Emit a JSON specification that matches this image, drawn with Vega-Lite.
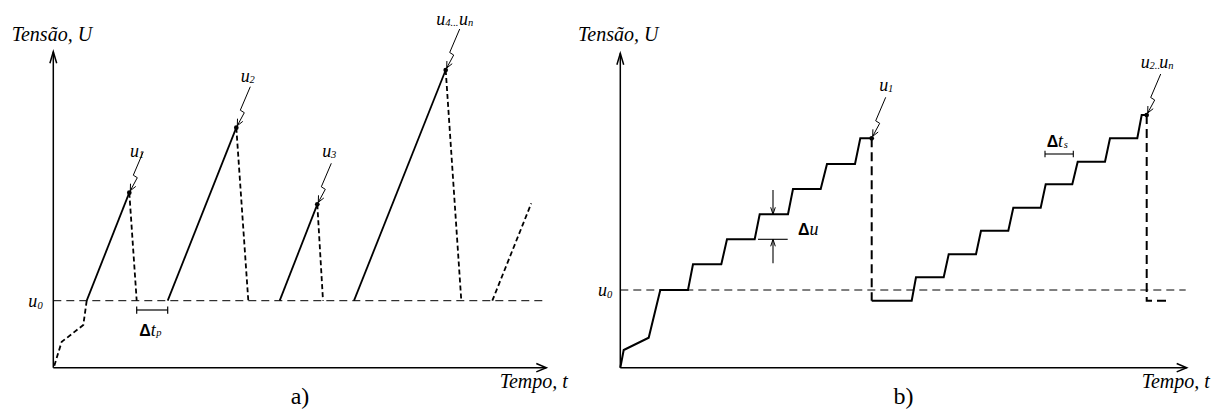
{
  "$schema": "https://vega.github.io/schema/vega-lite/v6.json",
  "background": "white",
  "padding": 0,
  "spacing": 0,
  "bounds": "flush",
  "config": {
    "view": {"stroke": null},
    "mark": {"color": "black"},
    "text": {"font": "Times New Roman", "color": "black"}
  },
  "datasets": {
    "segA": [
      {"role": "axis", "t": 0, "U": 0, "t2": 0, "U2": 31.6},
      {"role": "axis", "t": 0, "U": 0, "t2": 49.3, "U2": 0},
      {"role": "u0", "t": 0, "U": 6.7, "t2": 49.15, "U2": 6.7},
      {"role": "rise", "t": 3.34, "U": 6.7, "t2": 7.6, "U2": 17.5},
      {"role": "rise", "t": 11.44, "U": 6.7, "t2": 18.3, "U2": 24.0},
      {"role": "rise", "t": 22.64, "U": 6.7, "t2": 26.4, "U2": 16.34},
      {"role": "rise", "t": 30.07, "U": 6.7, "t2": 39.24, "U2": 29.77},
      {"role": "fall", "t": 7.6, "U": 17.5, "t2": 8.34, "U2": 6.7},
      {"role": "fall", "t": 18.3, "U": 24.0, "t2": 19.5, "U2": 6.7},
      {"role": "fall", "t": 26.4, "U": 16.34, "t2": 26.97, "U2": 6.7},
      {"role": "fall", "t": 39.24, "U": 29.77, "t2": 40.8, "U2": 6.7},
      {"role": "fall", "t": 43.9, "U": 6.7, "t2": 47.8, "U2": 16.44},
      {"role": "span", "t": 8.34, "U": 5.77, "t2": 11.44, "U2": 5.77},
      {"role": "span", "t": 8.34, "U": 6.12, "t2": 8.34, "U2": 5.4},
      {"role": "span", "t": 11.44, "U": 6.12, "t2": 11.44, "U2": 5.4}
    ],
    "leadA": [
      {"i": 0, "t": 0.1, "U": 0.2},
      {"i": 1, "t": 0.84, "U": 2.6},
      {"i": 2, "t": 1.34, "U": 2.97},
      {"i": 3, "t": 3.0, "U": 4.27},
      {"i": 4, "t": 3.34, "U": 6.7}
    ],
    "peaksA": [
      {"t": 7.6, "U": 17.5},
      {"t": 18.3, "U": 24.0},
      {"t": 26.4, "U": 16.34},
      {"t": 39.24, "U": 29.77}
    ],
    "tipsA": [
      {"dir": "up", "t": 0, "U": 31.6},
      {"dir": "right", "t": 49.3, "U": 0}
    ],
    "textA": [
      {"role": "title", "t": -4.16, "U": 32.67, "text": "Tensão, U"},
      {"role": "title", "t": 44.64, "U": -2.0, "text": "Tempo, t"},
      {"role": "tag", "t": 24.67, "U": -3.63, "text": "a)"},
      {"role": "letter", "t": -2.5, "U": 6.07, "text": "u"},
      {"role": "sub", "t": -1.58, "U": 5.87, "text": "0"},
      {"role": "letter", "t": 7.67, "U": 21.07, "text": "u"},
      {"role": "sub", "t": 8.55, "U": 20.97, "text": "1"},
      {"role": "letter", "t": 18.74, "U": 28.62, "text": "u"},
      {"role": "sub", "t": 19.62, "U": 28.52, "text": "2"},
      {"role": "letter", "t": 26.9, "U": 21.1, "text": "u"},
      {"role": "sub", "t": 27.77, "U": 21.0, "text": "3"},
      {"role": "letter", "t": 38.3, "U": 34.27, "text": "u"},
      {"role": "sub", "t": 39.2, "U": 34.17, "text": "4..."},
      {"role": "letter", "t": 40.57, "U": 34.27, "text": "u"},
      {"role": "sub", "t": 41.47, "U": 34.17, "text": "n"},
      {"role": "delta", "t": 8.6, "U": 3.17, "text": "Δ"},
      {"role": "letter", "t": 9.74, "U": 3.17, "text": "t"},
      {"role": "sub", "t": 10.3, "U": 3.17, "text": "p"}
    ],
    "segB": [
      {"role": "axis", "t": 0, "U": 0, "t2": 0, "U2": 31.44},
      {"role": "axis", "t": 0, "U": 0, "t2": 56.64, "U2": 0},
      {"role": "u0", "t": 0, "U": 7.77, "t2": 56.54, "U2": 7.77},
      {"role": "span", "t": 15.27, "U": 17.77, "t2": 15.27, "U2": 15.34},
      {"role": "span", "t": 15.27, "U": 10.44, "t2": 15.27, "U2": 12.84},
      {"role": "span", "t": 13.77, "U": 12.84, "t2": 16.74, "U2": 12.84},
      {"role": "span", "t": 42.47, "U": 21.37, "t2": 45.3, "U2": 21.37},
      {"role": "span", "t": 42.47, "U": 21.7, "t2": 42.47, "U2": 21.04},
      {"role": "span", "t": 45.3, "U": 21.7, "t2": 45.3, "U2": 21.04}
    ],
    "stairsB": [
      {"seg": 1, "i": 0, "t": 0, "U": 0},
      {"seg": 1, "i": 1, "t": 0.34, "U": 1.77},
      {"seg": 1, "i": 2, "t": 2.84, "U": 3.0},
      {"seg": 1, "i": 3, "t": 4.0, "U": 7.77},
      {"seg": 1, "i": 4, "t": 6.77, "U": 7.77},
      {"seg": 1, "i": 5, "t": 7.27, "U": 10.34},
      {"seg": 1, "i": 6, "t": 10.1, "U": 10.34},
      {"seg": 1, "i": 7, "t": 10.67, "U": 12.84},
      {"seg": 1, "i": 8, "t": 13.44, "U": 12.84},
      {"seg": 1, "i": 9, "t": 13.94, "U": 15.34},
      {"seg": 1, "i": 10, "t": 16.77, "U": 15.34},
      {"seg": 1, "i": 11, "t": 17.27, "U": 17.87},
      {"seg": 1, "i": 12, "t": 20.04, "U": 17.87},
      {"seg": 1, "i": 13, "t": 20.67, "U": 20.37},
      {"seg": 1, "i": 14, "t": 23.47, "U": 20.37},
      {"seg": 1, "i": 15, "t": 24.0, "U": 22.94},
      {"seg": 1, "i": 16, "t": 25.14, "U": 22.94},
      {"seg": 2, "i": 0, "t": 25.14, "U": 6.7},
      {"seg": 2, "i": 1, "t": 29.14, "U": 6.7},
      {"seg": 2, "i": 2, "t": 29.57, "U": 9.04},
      {"seg": 2, "i": 3, "t": 32.34, "U": 9.04},
      {"seg": 2, "i": 4, "t": 32.84, "U": 11.34},
      {"seg": 2, "i": 5, "t": 35.57, "U": 11.34},
      {"seg": 2, "i": 6, "t": 36.07, "U": 13.7},
      {"seg": 2, "i": 7, "t": 38.8, "U": 13.7},
      {"seg": 2, "i": 8, "t": 39.3, "U": 16.0},
      {"seg": 2, "i": 9, "t": 42.04, "U": 16.0},
      {"seg": 2, "i": 10, "t": 42.54, "U": 18.34},
      {"seg": 2, "i": 11, "t": 45.2, "U": 18.34},
      {"seg": 2, "i": 12, "t": 45.74, "U": 20.6},
      {"seg": 2, "i": 13, "t": 48.47, "U": 20.6},
      {"seg": 2, "i": 14, "t": 48.97, "U": 22.94},
      {"seg": 2, "i": 15, "t": 51.7, "U": 22.94},
      {"seg": 2, "i": 16, "t": 52.14, "U": 25.27},
      {"seg": 2, "i": 17, "t": 52.64, "U": 25.27}
    ],
    "dropsB": [
      {"seg": 1, "i": 0, "t": 25.14, "U": 22.94},
      {"seg": 1, "i": 1, "t": 25.14, "U": 6.7},
      {"seg": 2, "i": 0, "t": 52.64, "U": 25.27},
      {"seg": 2, "i": 1, "t": 52.64, "U": 6.7},
      {"seg": 2, "i": 2, "t": 54.8, "U": 6.7}
    ],
    "peaksB": [
      {"t": 25.14, "U": 22.94},
      {"t": 52.64, "U": 25.27}
    ],
    "tipsB": [
      {"dir": "up", "t": 0, "U": 31.44},
      {"dir": "right", "t": 56.64, "U": 0},
      {"dir": "down", "t": 15.27, "U": 15.34},
      {"dir": "rise", "t": 15.27, "U": 12.84}
    ],
    "textB": [
      {"role": "title", "t": -4.23, "U": 32.67, "text": "Tensão, U"},
      {"role": "title", "t": 52.14, "U": -2.0, "text": "Tempo, t"},
      {"role": "tag", "t": 28.32, "U": -3.63, "text": "b)"},
      {"role": "letter", "t": -2.23, "U": 7.17, "text": "u"},
      {"role": "sub", "t": -1.33, "U": 6.97, "text": "0"},
      {"role": "letter", "t": 25.9, "U": 27.7, "text": "u"},
      {"role": "sub", "t": 26.77, "U": 27.6, "text": "1"},
      {"role": "letter", "t": 52.04, "U": 29.94, "text": "u"},
      {"role": "sub", "t": 52.92, "U": 29.84, "text": "2.."},
      {"role": "letter", "t": 53.9, "U": 29.94, "text": "u"},
      {"role": "sub", "t": 54.8, "U": 29.84, "text": "n"},
      {"role": "delta", "t": 17.77, "U": 13.27, "text": "Δ"},
      {"role": "letter", "t": 18.92, "U": 13.27, "text": "u"},
      {"role": "delta", "t": 42.64, "U": 22.1, "text": "Δ"},
      {"role": "letter", "t": 43.78, "U": 22.1, "text": "t"},
      {"role": "sub", "t": 44.34, "U": 21.97, "text": "s"}
    ]
  },
  "hconcat": [
    {
      "width": 560,
      "height": 410,
      "encoding": {
        "x": {"field": "t", "type": "quantitative", "scale": {"domain": [-5.33, 50.67], "nice": false, "zero": false}, "axis": null},
        "y": {"field": "U", "type": "quantitative", "scale": {"domain": [-4.23, 36.77], "nice": false, "zero": false}, "axis": null}
      },
      "layer": [
        {
          "data": {"name": "segA"},
          "transform": [{"filter": "datum.role === 'axis'"}],
          "mark": {"type": "rule", "color": "black", "strokeWidth": 1.5},
          "encoding": {"x2": {"field": "t2"}, "y2": {"field": "U2"}}
        },
        {
          "data": {"name": "segA"},
          "transform": [{"filter": "datum.role === 'u0'"}],
          "mark": {"type": "rule", "color": "black", "strokeWidth": 1, "strokeDash": [8, 5]},
          "encoding": {"x2": {"field": "t2"}, "y2": {"field": "U2"}}
        },
        {
          "data": {"name": "segA"},
          "transform": [{"filter": "datum.role === 'rise'"}],
          "mark": {"type": "rule", "color": "black", "strokeWidth": 1.8},
          "encoding": {"x2": {"field": "t2"}, "y2": {"field": "U2"}}
        },
        {
          "data": {"name": "segA"},
          "transform": [{"filter": "datum.role === 'fall'"}],
          "mark": {"type": "rule", "color": "black", "strokeWidth": 1.8, "strokeDash": [5, 3]},
          "encoding": {"x2": {"field": "t2"}, "y2": {"field": "U2"}}
        },
        {
          "data": {"name": "segA"},
          "transform": [{"filter": "datum.role === 'span'"}],
          "mark": {"type": "rule", "color": "black", "strokeWidth": 1.2},
          "encoding": {"x2": {"field": "t2"}, "y2": {"field": "U2"}}
        },
        {
          "data": {"name": "leadA"},
          "mark": {"type": "line", "color": "black", "strokeWidth": 1.8, "strokeDash": [5, 3]},
          "encoding": {"order": {"field": "i", "type": "quantitative"}}
        },
        {
          "data": {"name": "tipsA"},
          "transform": [{"filter": "datum.dir === 'up'"}],
          "mark": {"type": "point", "shape": "M-3.4,11.5L0,0L3.4,11.5", "size": 4, "filled": false, "color": "black", "strokeWidth": 1.5, "opacity": 1}
        },
        {
          "data": {"name": "tipsA"},
          "transform": [{"filter": "datum.dir === 'right'"}],
          "mark": {"type": "point", "shape": "M-10,-4.2L0,0L-10,4.2", "size": 4, "filled": false, "color": "black", "strokeWidth": 1.5, "opacity": 1}
        },
        {
          "data": {"name": "peaksA"},
          "mark": {"type": "point", "shape": "M14,-41L4,-17.5L8,-15L1,-2M6.5,-6.3L1,-2L1.2,-9", "size": 4, "filled": false, "color": "black", "strokeWidth": 1, "opacity": 1}
        },
        {
          "data": {"name": "peaksA"},
          "mark": {"type": "point", "shape": "circle", "size": 22, "filled": true, "color": "black", "opacity": 1}
        },
        {
          "data": {"name": "textA"},
          "transform": [{"filter": "datum.role === 'title'"}],
          "mark": {"type": "text", "font": "Times New Roman", "fontStyle": "italic", "fontSize": 20, "align": "left", "baseline": "alphabetic", "color": "black"},
          "encoding": {"text": {"field": "text"}}
        },
        {
          "data": {"name": "textA"},
          "transform": [{"filter": "datum.role === 'tag'"}],
          "mark": {"type": "text", "font": "Times New Roman", "fontSize": 24, "align": "center", "baseline": "alphabetic", "color": "black"},
          "encoding": {"text": {"field": "text"}}
        },
        {
          "data": {"name": "textA"},
          "transform": [{"filter": "datum.role === 'letter'"}],
          "mark": {"type": "text", "font": "Times New Roman", "fontStyle": "italic", "fontSize": 18, "align": "left", "baseline": "alphabetic", "color": "black"},
          "encoding": {"text": {"field": "text"}}
        },
        {
          "data": {"name": "textA"},
          "transform": [{"filter": "datum.role === 'sub'"}],
          "mark": {"type": "text", "font": "Times New Roman", "fontStyle": "italic", "fontSize": 10.5, "align": "left", "baseline": "alphabetic", "color": "black"},
          "encoding": {"text": {"field": "text"}}
        },
        {
          "data": {"name": "textA"},
          "transform": [{"filter": "datum.role === 'delta'"}],
          "mark": {"type": "text", "font": "Liberation Sans", "fontWeight": "bold", "fontSize": 16, "align": "left", "baseline": "alphabetic", "color": "black"},
          "encoding": {"text": {"field": "text"}}
        }
      ]
    },
    {
      "width": 664,
      "height": 410,
      "encoding": {
        "x": {"field": "t", "type": "quantitative", "scale": {"domain": [-6.03, 60.37], "nice": false, "zero": false}, "axis": null},
        "y": {"field": "U", "type": "quantitative", "scale": {"domain": [-4.23, 36.77], "nice": false, "zero": false}, "axis": null}
      },
      "layer": [
        {
          "data": {"name": "segB"},
          "transform": [{"filter": "datum.role === 'axis'"}],
          "mark": {"type": "rule", "color": "black", "strokeWidth": 1.5},
          "encoding": {"x2": {"field": "t2"}, "y2": {"field": "U2"}}
        },
        {
          "data": {"name": "segB"},
          "transform": [{"filter": "datum.role === 'u0'"}],
          "mark": {"type": "rule", "color": "black", "strokeWidth": 1, "strokeDash": [8, 5]},
          "encoding": {"x2": {"field": "t2"}, "y2": {"field": "U2"}}
        },
        {
          "data": {"name": "segB"},
          "transform": [{"filter": "datum.role === 'span'"}],
          "mark": {"type": "rule", "color": "black", "strokeWidth": 1.1},
          "encoding": {"x2": {"field": "t2"}, "y2": {"field": "U2"}}
        },
        {
          "data": {"name": "stairsB"},
          "mark": {"type": "line", "color": "black", "strokeWidth": 2},
          "encoding": {"detail": {"field": "seg", "type": "nominal"}, "order": {"field": "i", "type": "quantitative"}}
        },
        {
          "data": {"name": "dropsB"},
          "mark": {"type": "line", "color": "black", "strokeWidth": 2, "strokeDash": [9, 5]},
          "encoding": {"detail": {"field": "seg", "type": "nominal"}, "order": {"field": "i", "type": "quantitative"}}
        },
        {
          "data": {"name": "tipsB"},
          "transform": [{"filter": "datum.dir === 'up'"}],
          "mark": {"type": "point", "shape": "M-3.4,11.5L0,0L3.4,11.5", "size": 4, "filled": false, "color": "black", "strokeWidth": 1.5, "opacity": 1}
        },
        {
          "data": {"name": "tipsB"},
          "transform": [{"filter": "datum.dir === 'right'"}],
          "mark": {"type": "point", "shape": "M-10,-4.2L0,0L-10,4.2", "size": 4, "filled": false, "color": "black", "strokeWidth": 1.5, "opacity": 1}
        },
        {
          "data": {"name": "tipsB"},
          "transform": [{"filter": "datum.dir === 'down'"}],
          "mark": {"type": "point", "shape": "M-2.3,-7L0,0L2.3,-7", "size": 4, "filled": false, "color": "black", "strokeWidth": 1, "opacity": 1}
        },
        {
          "data": {"name": "tipsB"},
          "transform": [{"filter": "datum.dir === 'rise'"}],
          "mark": {"type": "point", "shape": "M-2.3,7L0,0L2.3,7", "size": 4, "filled": false, "color": "black", "strokeWidth": 1, "opacity": 1}
        },
        {
          "data": {"name": "peaksB"},
          "mark": {"type": "point", "shape": "M14,-41L4,-17.5L8,-15L1,-2M6.5,-6.3L1,-2L1.2,-9", "size": 4, "filled": false, "color": "black", "strokeWidth": 1, "opacity": 1}
        },
        {
          "data": {"name": "peaksB"},
          "mark": {"type": "point", "shape": "circle", "size": 22, "filled": true, "color": "black", "opacity": 1}
        },
        {
          "data": {"name": "textB"},
          "transform": [{"filter": "datum.role === 'title'"}],
          "mark": {"type": "text", "font": "Times New Roman", "fontStyle": "italic", "fontSize": 20, "align": "left", "baseline": "alphabetic", "color": "black"},
          "encoding": {"text": {"field": "text"}}
        },
        {
          "data": {"name": "textB"},
          "transform": [{"filter": "datum.role === 'tag'"}],
          "mark": {"type": "text", "font": "Times New Roman", "fontSize": 24, "align": "center", "baseline": "alphabetic", "color": "black"},
          "encoding": {"text": {"field": "text"}}
        },
        {
          "data": {"name": "textB"},
          "transform": [{"filter": "datum.role === 'letter'"}],
          "mark": {"type": "text", "font": "Times New Roman", "fontStyle": "italic", "fontSize": 18, "align": "left", "baseline": "alphabetic", "color": "black"},
          "encoding": {"text": {"field": "text"}}
        },
        {
          "data": {"name": "textB"},
          "transform": [{"filter": "datum.role === 'sub'"}],
          "mark": {"type": "text", "font": "Times New Roman", "fontStyle": "italic", "fontSize": 10.5, "align": "left", "baseline": "alphabetic", "color": "black"},
          "encoding": {"text": {"field": "text"}}
        },
        {
          "data": {"name": "textB"},
          "transform": [{"filter": "datum.role === 'delta'"}],
          "mark": {"type": "text", "font": "Liberation Sans", "fontWeight": "bold", "fontSize": 16, "align": "left", "baseline": "alphabetic", "color": "black"},
          "encoding": {"text": {"field": "text"}}
        }
      ]
    }
  ]
}
